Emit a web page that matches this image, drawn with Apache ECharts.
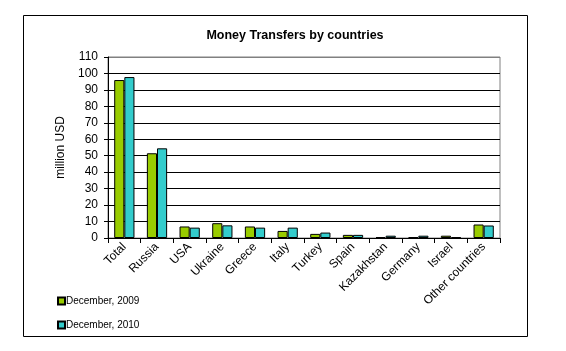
<!DOCTYPE html>
<html>
<head>
<meta charset="utf-8">
<script src="https://cdn.jsdelivr.net/npm/echarts@6/dist/echarts.min.js"></script>
<style>
    html, body { margin: 0; padding: 0; background: #fff; }
    #chart { width: 566px; height: 351px; }
</style>
</head>
<body>
<div id="chart"></div>
<script>
// 类目（国家）
const countries = ['Total', 'Russia', 'USA', 'Ukraine', 'Greece', 'Italy', 'Turkey', 'Spain', 'Kazakhstan', 'Germany', 'Israel', 'Other countries']
// 两个系列的数值（百万美元）
const dec2009 = [96, 51.5, 7, 9, 7, 4.3, 2.5, 1.9, 0.6, 0.6, 1.4, 8.2]
const dec2010 = [97.8, 54.5, 6.3, 7.7, 6.3, 6.3, 3.3, 1.9, 1.4, 1.4, 0.6, 7.6]
const seriesNames = ['December, 2009', 'December, 2010']

const font = 'Liberation Sans, Arial, sans-serif'
// 顶部那条线是绘图区边框，灰色
const splitColors = ['#000', '#000', '#000', '#000', '#000', '#000', '#000', '#000', '#000', '#000', '#000', '#808080']

let myChart = echarts.init(document.getElementById('chart'))
let options = {
    animation: false,
    textStyle: { fontFamily: font },
    title: {
        text: 'Money Transfers by countries',
        left: 290,
        top: 24,
        textAlign: 'center',
        textStyle: { fontSize: 12.5, fontWeight: 'bold', color: '#000', fontFamily: font }
    },
    legend: {
        orient: 'vertical',
        left: 52,
        top: 291,
        itemWidth: 7,
        itemHeight: 7,
        itemGap: 14,
        icon: 'rect',
        textStyle: { fontSize: 10, color: '#000', padding: [0, 0, 0, -4] },
        data: seriesNames
    },
    grid: {
        left: 108,
        right: 66,
        top: 57,
        bottom: 113,
        show: true,
        borderColor: '#808080',
        borderWidth: 1
    },
    xAxis: {
        type: 'category',
        data: countries,
        axisLine: { lineStyle: { color: '#000' } },
        axisTick: { show: true, length: 5, lineStyle: { color: '#000' } },
        axisLabel: { rotate: 45, fontSize: 12, color: '#000', margin: 7, interval: 0 }
    },
    yAxis: {
        type: 'value',
        min: 0,
        max: 110,
        interval: 10,
        name: 'million USD',
        nameLocation: 'middle',
        nameGap: 36,
        nameTextStyle: { fontSize: 12, color: '#000' },
        axisLine: { show: true, lineStyle: { color: '#000' } },
        axisTick: { show: true, length: 4, lineStyle: { color: '#000' } },
        axisLabel: { fontSize: 12, color: '#000', margin: 10 },
        splitLine: { lineStyle: { color: splitColors, width: 1 } }
    },
    series: [{
        name: seriesNames[0],
        type: 'bar',
        barGap: 0,
        barCategoryGap: '38%',
        data: dec2009,
        itemStyle: { color: '#99CC00', borderColor: '#000', borderWidth: 1 }
    },
    {
        name: seriesNames[1],
        type: 'bar',
        barGap: 0,
        barCategoryGap: '38%',
        data: dec2010,
        itemStyle: { color: '#33CCCC', borderColor: '#000', borderWidth: 1 }
    }],
    graphic: [{
        // 外框
        type: 'rect',
        shape: { x: 23.5, y: 15.5, width: 504, height: 321 },
        style: { fill: 'none', stroke: '#000', lineWidth: 1 },
        silent: true
    }]
}
myChart.setOption(options)
</script>
</body>
</html>
